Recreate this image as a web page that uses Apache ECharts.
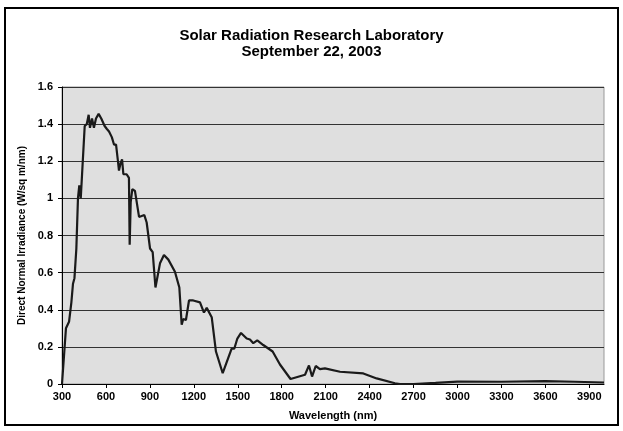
<!DOCTYPE html>
<html>
<head>
<meta charset="utf-8">
<script src="https://cdn.jsdelivr.net/npm/echarts@6/dist/echarts.min.js"></script>
<style>
    html, body { margin: 0; padding: 0; background: #fff; }
    #chart { width: 623px; height: 431px; }
</style>
</head>
<body>
<div id="chart"></div>
<script>
// wavelength (nm) and direct normal irradiance (W/sq m/nm)
var wavelength = [300, 327, 348, 364, 375, 385, 391, 398, 409, 418, 423, 428, 437, 455, 469, 482, 491, 505, 518, 532,
    550, 568, 591, 605, 621, 640, 655, 669, 682, 689, 700, 710, 719, 741, 757, 762, 769, 780, 798, 826,
    837, 862, 878, 901, 919, 938, 951, 969, 996, 1026, 1071, 1101, 1117, 1128, 1146, 1167, 1196, 1242, 1269, 1288,
    1322, 1351, 1397, 1458, 1476, 1497, 1522, 1561, 1583, 1606, 1633, 1674, 1738, 1788, 1860, 1959, 1986, 2007, 2032, 2061,
    2095, 2198, 2357, 2448, 2573, 2607, 2700, 2850, 3000, 3300, 3600, 3800, 4000];
var irradiance = [0, 0.30, 0.335, 0.44, 0.54, 0.57, 0.565, 0.73, 1.0, 1.07, 1.06, 1.0, 1.13, 1.39, 1.40, 1.45, 1.38, 1.43, 1.38, 1.43,
    1.455, 1.43, 1.39, 1.375, 1.36, 1.33, 1.29, 1.29, 1.20, 1.15, 1.19, 1.21, 1.13, 1.13, 1.11, 0.75, 0.98, 1.05, 1.04, 0.90,
    0.91, 0.91, 0.87, 0.73, 0.71, 0.52, 0.52, 0.65, 0.695, 0.67, 0.605, 0.52, 0.32, 0.35, 0.345, 0.45, 0.45, 0.44, 0.385, 0.41,
    0.36, 0.175, 0.058, 0.19, 0.19, 0.245, 0.275, 0.245, 0.24, 0.22, 0.235, 0.21, 0.175, 0.105, 0.027, 0.05, 0.10, 0.04, 0.097, 0.08,
    0.084, 0.066, 0.057, 0.03, 0.004, 0, 0, 0.006, 0.013, 0.012, 0.015, 0.012, 0.008];

var titleText = 'Solar Radiation Research Laboratory\nSeptember 22, 2003';
var xName = 'Wavelength (nm)';
var yName = 'Direct Normal Irradiance (W/sq m/nm)';

var points = wavelength.map(function (w, i) { return [w, irradiance[i]]; });

var myChart = echarts.init(document.getElementById('chart'));
var fam = 'Arial, "Liberation Sans", sans-serif';
function font(size) {
    return { color: '#000', fontFamily: fam, fontWeight: 'bold', fontSize: size };
}

var option = {
    animation: false,
    backgroundColor: '#fff',
    title: {
        text: titleText,
        left: 'center',
        top: 23,
        textStyle: {
            color: '#000',
            fontFamily: fam,
            fontWeight: 'bold',
            fontSize: 15,
            lineHeight: 16
        }
    },
    graphic: [{
        type: 'rect',
        shape: { x: 5, y: 8, width: 613, height: 417 },
        style: { fill: 'none', stroke: '#000', lineWidth: 2 },
        silent: true
    }],
    grid: {
        left: 62,
        right: 19,
        top: 87,
        bottom: 47,
        show: true,
        backgroundColor: '#dfdfdf',
        borderColor: '#999',
        borderWidth: 1
    },
    xAxis: {
        type: 'value',
        min: 300,
        max: 4000,
        interval: 300,
        name: xName,
        nameLocation: 'middle',
        nameGap: 26,
        nameTextStyle: font(11),
        axisLine: { lineStyle: { color: '#000', width: 1 } },
        axisTick: { show: true, length: 4, lineStyle: { color: '#000' } },
        axisLabel: Object.assign({
            margin: 7,
            showMaxLabel: false,
            formatter: function (v) { return String(v); }
        }, font(11)),
        splitLine: { show: false }
    },
    yAxis: {
        type: 'value',
        min: 0,
        max: 1.6,
        interval: 0.2,
        name: yName,
        nameLocation: 'middle',
        nameGap: 28,
        nameTextStyle: font(10),
        axisLine: { show: true, lineStyle: { color: '#000', width: 1 } },
        axisTick: { show: true, length: 4, lineStyle: { color: '#000' } },
        axisLabel: Object.assign({ margin: 9 }, font(11)),
        splitLine: { show: true, lineStyle: { color: '#333', width: 1 } }
    },
    series: [{
        type: 'line',
        data: points,
        symbol: 'none',
        lineStyle: { color: '#1a1a1a', width: 2.2 }
    }]
};
myChart.setOption(option);
</script>
</body>
</html>
